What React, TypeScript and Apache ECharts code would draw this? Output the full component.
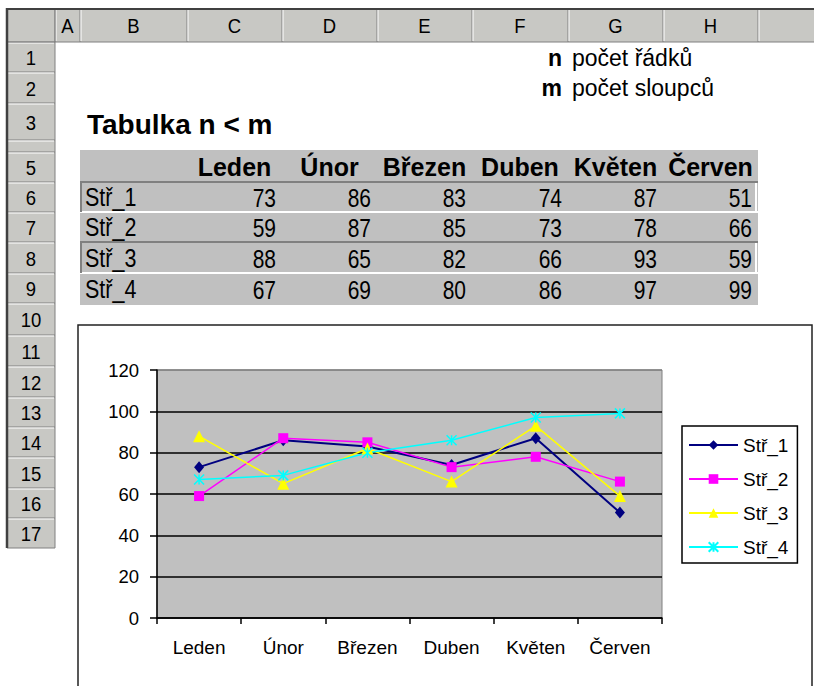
import React, { useEffect, useRef } from "react";
import * as echarts from "echarts";

// ---------- data ----------
const months = ["Leden", "Únor", "Březen", "Duben", "Květen", "Červen"];
const seriesNames = ["Stř_1", "Stř_2", "Stř_3", "Stř_4"];
const str1 = [73, 86, 83, 74, 87, 51];
const str2 = [59, 87, 85, 73, 78, 66];
const str3 = [88, 65, 82, 66, 93, 59];
const str4 = [67, 69, 80, 86, 97, 99];
const seriesValues = [str1, str2, str3, str4];
const colLetters = ["A", "B", "C", "D", "E", "F", "G", "H", ""];
const rowNumbers = ["1", "2", "3", "", "5", "6", "7", "8", "9", "10", "11", "12", "13", "14", "15", "16", "17"];
const title = "Tabulka n < m";
const noteN = ["n", "počet řádků"];
const noteM = ["m", "počet sloupců"];

// ---------- layout (style only) ----------
const colEdges = [55, 80, 187, 282, 377, 472, 568, 663, 758, 820];
const rowEdges = [42, 72, 103, 140, 152, 182, 212, 242, 273, 303, 335, 366, 397, 427, 457, 488, 518, 548];
const FONT = '"Liberation Sans", Arial, sans-serif';
const colors = ["#000080", "#ff00ff", "#ffff00", "#00ffff"];
const symbols = ["diamond", "rect", "triangle", "path://M0,0L10,10M10,0L0,10M5,0L5,10"];
const symbolSizes = [[10, 12], 10, 12, 10];

function txt(text: string, x: number, y: number, o: any = {}) {
  const align = o.align || "left";
  return {
    type: "text",
    x,
    y,
    scaleX: o.sx || 1,
    silent: true,
    z: 1,
    style: {
      text,
      fill: o.fill || "#000",
      fontSize: o.size || 20,
      fontWeight: o.weight || "normal",
      fontFamily: o.family || FONT,
      textAlign: align,
      align,
      textVerticalAlign: "middle",
      verticalAlign: "middle",
    },
  };
}
function line(x1: number, y1: number, x2: number, y2: number, stroke: string, lw = 1) {
  return { type: "line", silent: true, z: 1, shape: { x1, y1, x2, y2 }, style: { stroke, lineWidth: lw } };
}
function rect(x: number, y: number, w: number, h: number, fill: string, stroke?: string, lw = 1) {
  return {
    type: "rect",
    silent: true,
    z: 0,
    shape: { x, y, width: w, height: h },
    style: { fill, stroke: stroke || null, lineWidth: lw },
  };
}

function buildGraphics() {
  const g: any[] = [];
  const hdr = "#c8c8c4";
  // column header band & row header band
  g.push(rect(7, 9, 820, 33, hdr));
  g.push(rect(7, 42, 48, rowEdges[rowEdges.length - 1] - 42, hdr));
  // column separators
  for (let i = 0; i < colEdges.length; i++) {
    const x = colEdges[i];
    g.push(line(x, 10, x, 42, "#808080", 1));
    g.push(line(x + 1, 10, x + 1, 41, "#ffffff", 1));
  }
  // row separators
  for (let i = 0; i < rowEdges.length; i++) {
    const y = rowEdges[i];
    g.push(line(7, y, 55, y, "#808080", 1));
    if (i < rowEdges.length - 1) g.push(line(8, y + 1, 54, y + 1, "#ffffff", 1));
  }
  g.push(line(55, 9, 55, rowEdges[rowEdges.length - 1], "#808080", 1));
  g.push(line(7, 42, 820, 42, "#808080", 1));
  // outer dark border
  g.push(line(6, 9, 820, 9, "#404040", 2));
  g.push(line(7, 8, 7, rowEdges[rowEdges.length - 1], "#404040", 2.5));
  // column letters
  for (let i = 0; i < colLetters.length - 1; i++) {
    const cx = (colEdges[i] + colEdges[i + 1]) / 2;
    g.push(txt(colLetters[i], cx, 26, { align: "center", size: 21, sx: 0.88 }));
  }
  // row numbers
  for (let i = 0; i < rowNumbers.length; i++) {
    const cy = (rowEdges[i] + rowEdges[i + 1]) / 2;
    if (rowNumbers[i]) g.push(txt(rowNumbers[i], 31, cy + 1, { align: "center", size: 21, sx: 0.88 }));
  }
  // notes
  g.push(txt(noteN[0], 562, 58, { align: "right", weight: "bold", size: 23 }));
  g.push(txt(noteN[1], 572, 58, { size: 23 }));
  g.push(txt(noteM[0], 562, 88, { align: "right", weight: "bold", size: 23 }));
  g.push(txt(noteM[1], 572, 88, { size: 23 }));
  // title
  g.push(txt(title, 87, 124, { weight: "bold", size: 28 }));
  // table band
  g.push(rect(80, 150, 678, 155, "#c0c0c0"));
  g.push(line(80, 182, 758, 182, "#808080", 2));
  g.push(line(80, 212, 758, 212, "#ffffff", 2));
  g.push(line(80, 242, 758, 242, "#808080", 2));
  g.push(line(80, 273, 758, 273, "#ffffff", 2));
  g.push(line(81, 182, 81, 212, "#808080", 2));
  g.push(line(81, 242, 81, 273, "#808080", 2));
  g.push(line(756, 183, 756, 212, "#ffffff", 2));
  g.push(line(756, 243, 756, 273, "#ffffff", 2));
  // header row
  for (let j = 0; j < months.length; j++) {
    const cx = (colEdges[j + 2] + colEdges[j + 3]) / 2;
    g.push(txt(months[j], cx, 167, { align: "center", weight: "bold", size: 25 }));
  }
  // data rows
  const rowCenters = [197, 227, 258, 289];
  for (let i = 0; i < seriesNames.length; i++) {
    g.push(txt(seriesNames[i], 85, rowCenters[i], { size: 25, sx: 0.86 }));
    for (let j = 0; j < months.length; j++) {
      const rx = colEdges[j + 3] - 6;
      g.push(txt(String(seriesValues[i][j]), rx, rowCenters[i] + 1, { align: "right", size: 25, sx: 0.84 }));
    }
  }
  // chart area
  g.push(rect(78, 325, 734, 420, "#ffffff", "#222222", 1.5));
  return g;
}

export default function App() {
  const ref = useRef<HTMLDivElement>(null);
  useEffect(() => {
    if (!ref.current) return;
    const chart = echarts.init(ref.current, null, { renderer: "svg" });
    const option: any = {
      animation: false,
      backgroundColor: "#ffffff",
      graphic: { elements: buildGraphics() },
      grid: {
        left: 157,
        top: 370,
        width: 505,
        height: 248,
        show: true,
        backgroundColor: "#c0c0c0",
        borderColor: "#808080",
        borderWidth: 1,
        z: 1,
      },
      xAxis: {
        type: "category",
        data: months,
        boundaryGap: true,
        z: 3,
        axisLine: { lineStyle: { color: "#000", width: 1.5 } },
        axisTick: { show: true, length: 6, inside: false, lineStyle: { color: "#000", width: 1.5 } },
        axisLabel: { color: "#000", fontSize: 19, fontFamily: FONT, margin: 20 },
        splitLine: { show: false },
      },
      yAxis: {
        type: "value",
        min: 0,
        max: 120,
        interval: 20,
        z: 3,
        axisLine: { show: true, lineStyle: { color: "#000", width: 1.5 } },
        axisTick: { show: true, length: 7, inside: false, lineStyle: { color: "#000", width: 1.5 } },
        axisLabel: { color: "#000", fontSize: 18.5, fontFamily: FONT, margin: 18 },
        splitLine: {
          show: true,
          lineStyle: {
            color: ["#000", "#000", "#000", "#000", "#000", "#000", "#808080"],
            width: 1.5,
          },
        },
      },
      legend: {
        orient: "vertical",
        left: 682,
        top: 426,
        data: seriesNames,
        backgroundColor: "#ffffff",
        borderColor: "#000",
        borderWidth: 1.5,
        padding: [9, 9, 6, 6],
        itemGap: 14,
        itemWidth: 49,
        itemHeight: 12,
        textStyle: { color: "#000", fontSize: 19, fontFamily: FONT, lineHeight: 20 },
        z: 6,
      },
      series: seriesNames.map((name, i) => ({
        name,
        type: "line",
        data: seriesValues[i],
        symbol: symbols[i],
        symbolSize: symbolSizes[i],
        showSymbol: true,
        z: 5,
        lineStyle: { color: colors[i], width: i === 0 ? 2 : 1.5 },
        itemStyle: { color: colors[i], borderColor: colors[i], borderWidth: i === 3 ? 1.5 : 0 },
        emphasis: { disabled: true },
      })),
    };
    chart.setOption(option);
    return () => chart.dispose();
  }, []);
  return <div ref={ref} style={{ position: "absolute", left: 0, top: 0, width: 814, height: 686 }} />;
}
